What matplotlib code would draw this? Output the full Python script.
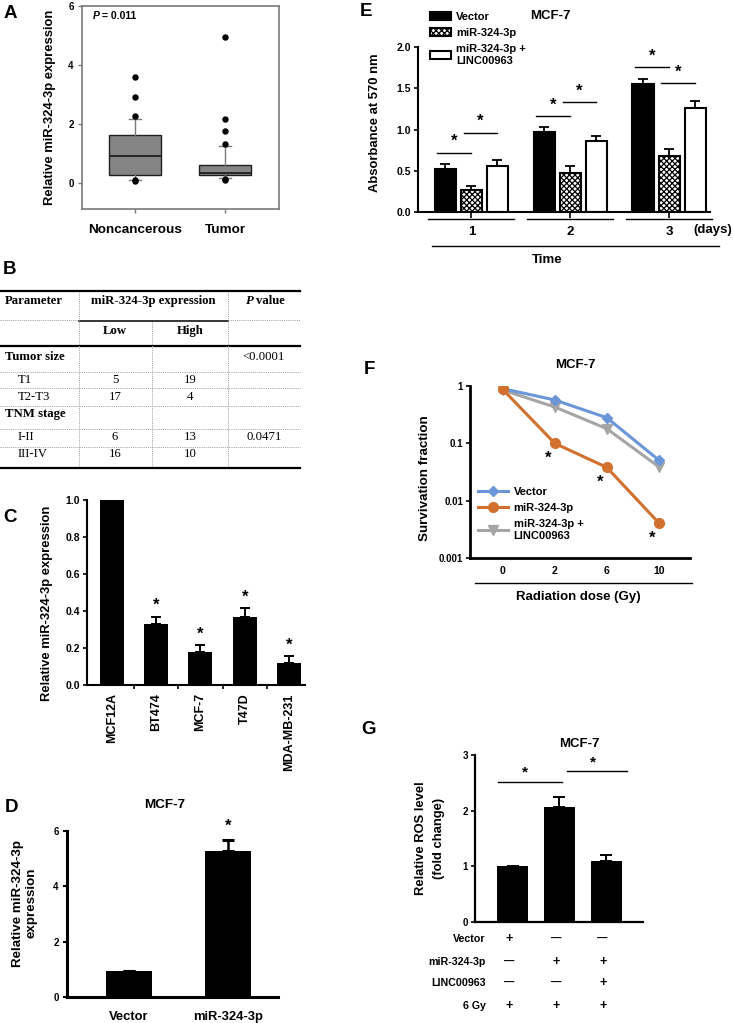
import matplotlib
matplotlib.use('Agg')
import matplotlib.pyplot as plt
import matplotlib.transforms as mtransforms
import numpy as np

plt.rcParams['font.family'] = ['Liberation Sans', 'DejaVu Sans']
plt.rcParams['font.weight'] = 'bold'
plt.rcParams['axes.labelweight'] = 'bold'
plt.rcParams['hatch.linewidth'] = 0.9

# ---------------- data ----------------
# A: box plot summary
a_groups = ['Noncancerous', 'Tumor']
a_q1 = [0.24, 0.24]
a_med = [0.90, 0.33]
a_q3 = [1.60, 0.61]
a_whislo = [0.10, 0.14]
a_whishi = [2.15, 1.24]
a_fliers = [[3.60, 2.90, 2.25, 0.06, 0.09], [4.95, 2.15, 1.75, 1.30, 0.10, 0.12]]
a_pvalue = '= 0.011'

# B: table
b_params = ['Tumor size', 'T1', 'T2-T3', 'TNM stage', 'I-II', 'III-IV']
b_is_header = [True, False, False, True, False, False]
b_low = ['', '5', '17', '', '6', '16']
b_high = ['', '19', '4', '', '13', '10']
b_p = ['<0.0001', '', '', '', '0.0471', '']

# C: cell lines
c_lines = ['MCF12A', 'BT474', 'MCF-7', 'T47D', 'MDA-MB-231']
c_vals = [1.0, 0.33, 0.18, 0.37, 0.12]
c_err = [0.0, 0.04, 0.035, 0.045, 0.035]
c_sig = [False, True, True, True, True]

# D
d_groups = ['Vector', 'miR-324-3p']
d_vals = [0.95, 5.26]
d_err = [0.0, 0.40]
d_sig = [False, True]

# E
e_days = ['1', '2', '3']
e_series = ['Vector', 'miR-324-3p', 'miR-324-3p +\nLINC00963']
e_vector = [0.515, 0.97, 1.55]
e_vector_err = [0.065, 0.06, 0.06]
e_mir = [0.26, 0.475, 0.68]
e_mir_err = [0.05, 0.08, 0.08]
e_linc = [0.55, 0.86, 1.265]
e_linc_err = [0.075, 0.065, 0.085]
e_sig = [(0, 0, 1, 0.72), (0, 1, 2, 0.96), (1, 0, 1, 1.165),
         (1, 1, 2, 1.33), (2, 0, 1, 1.757), (2, 1, 2, 1.56)]

# F
f_doses = ['0', '2', '6', '10']
f_vector = [0.90, 0.57, 0.28, 0.051]
f_mir = [0.87, 0.10, 0.038, 0.0041]
f_linc = [0.85, 0.43, 0.18, 0.039]
f_sig = [False, True, True, True]

# G
g_vals = [1.0, 2.06, 1.09]
g_err = [0.0, 0.18, 0.11]
g_rows = ['Vector', 'miR-324-3p', 'LINC00963', '6 Gy']
g_signs = [['+', '\u2014', '\u2014'], ['\u2014', '+', '+'],
           ['\u2014', '\u2014', '+'], ['+', '+', '+']]
g_sig = [(0, 1, 2.52), (1, 2, 2.71)]

# ---------------- layout helpers ----------------
W, H = 733, 1023
fig = plt.figure(figsize=(W / 100, H / 100), dpi=100)


def add_ax(l, t, r, b):
    return fig.add_axes([l / W, 1 - b / H, (r - l) / W, (b - t) / H])


def fx(x):
    return x / W


def fy(y):
    return 1 - y / H


def ftext(x, y, s, **kw):
    kw.setdefault('ha', 'center')
    kw.setdefault('va', 'center')
    return fig.text(fx(x), fy(y), s, **kw)


def place_ylabel(ax, x, y):
    ax.yaxis.set_label_coords(x, y)
    ax.yaxis.label.set_verticalalignment('center')


LETTER = 13.5

# ---------------- Panel A ----------------
axA = add_ax(82, 6, 279, 209)
stats = []
for i in range(len(a_groups)):
    stats.append(dict(label=a_groups[i], q1=a_q1[i], med=a_med[i], q3=a_q3[i],
                      whislo=a_whislo[i], whishi=a_whishi[i],
                      fliers=np.array(a_fliers[i])))
axA.bxp(stats, positions=[1, 2], widths=0.58, capwidths=0.14, patch_artist=True,
        boxprops=dict(facecolor='#858585', edgecolor='#202020', linewidth=1.0),
        medianprops=dict(color='#202020', linewidth=1.3),
        whiskerprops=dict(color='#7a7a7a', linewidth=1.0),
        capprops=dict(color='#7a7a7a', linewidth=1.0),
        flierprops=dict(marker='o', markerfacecolor='black', markeredgecolor='black',
                        markersize=3.6, linestyle='none'))
axA.set_xlim(0.41, 2.6)
axA.set_ylim(-0.9, 6)
axA.set_yticks([0, 2, 4, 6])
for s in axA.spines.values():
    s.set_color('#7a7a7a')
    s.set_linewidth(1.2)
axA.tick_params(axis='y', labelsize=7, length=3, color='#7a7a7a', width=1, pad=3)
axA.tick_params(axis='x', labelsize=9.7, length=3, color='#7a7a7a', width=1, pad=8)
axA.set_ylabel('Relative miR-324-3p expression', fontsize=9.4)
place_ylabel(axA, -0.162, 0.5)
ftext(93, 16, 'P', ha='left', fontsize=7.5, style='italic')
ftext(102, 16, a_pvalue, ha='left', fontsize=7.5)
ftext(10, 14, 'A', fontsize=LETTER)

# ---------------- Panel B (table) ----------------
ftext(10, 270, 'B', fontsize=LETTER)
axB = add_ax(0, 285, 300, 472)
axB.set_xlim(0, 300)
axB.set_ylim(472, 285)
axB.axis('off')
serif = ['Liberation Serif', 'DejaVu Serif']
TFS = 9.2
dot = dict(color='#9a9a9a', lw=0.7, ls=(0, (1, 1.2)), clip_on=False)
axB.plot([0, 300], [291, 291], color='black', lw=1.6, clip_on=False)
axB.plot([0, 79], [320, 320], **dot)
axB.plot([228, 300], [320, 320], **dot)
axB.plot([79, 228], [321, 321], color='black', lw=1.1, clip_on=False)
axB.plot([0, 300], [346.5, 346.5], color='black', lw=1.6, clip_on=False)
for yl in [371.7, 388, 406, 429, 446.7]:
    axB.plot([0, 300], [yl, yl], **dot)
axB.plot([0, 300], [468, 468], color='black', lw=1.6, clip_on=False)
axB.plot([79, 79], [292, 467], **dot)
axB.plot([152, 152], [322, 467], **dot)
axB.plot([228, 228], [292, 467], **dot)
axB.text(5, 301, 'Parameter', family=serif, fontsize=TFS, weight='bold', ha='left', va='center')
axB.text(153, 301, 'miR-324-3p expression', family=serif, fontsize=TFS, weight='bold', ha='center', va='center')
axB.text(246, 301, 'P', family=serif, fontsize=TFS, weight='bold', style='italic', ha='left', va='center')
axB.text(256, 301, 'value', family=serif, fontsize=TFS, weight='bold', ha='left', va='center')
axB.text(115, 331, 'Low', family=serif, fontsize=TFS, weight='bold', ha='center', va='center')
axB.text(190, 331, 'High', family=serif, fontsize=TFS, weight='bold', ha='center', va='center')
row_y = [357, 380, 397.5, 414, 436.5, 454]
for i, name in enumerate(b_params):
    yy = row_y[i]
    if b_is_header[i]:
        axB.text(5, yy, name, family=serif, fontsize=TFS, weight='bold', ha='left', va='center')
    else:
        axB.text(18, yy, name, family=serif, fontsize=TFS, weight='normal', ha='left', va='center')
    axB.text(115, yy, b_low[i], family=serif, fontsize=TFS, weight='normal', ha='center', va='center')
    axB.text(190, yy, b_high[i], family=serif, fontsize=TFS, weight='normal', ha='center', va='center')
    axB.text(264, yy, b_p[i], family=serif, fontsize=TFS, weight='normal', ha='center', va='center')

# ---------------- Panel C ----------------
ftext(10, 517, 'C', fontsize=LETTER)
axC = add_ax(87, 500, 305, 685)
xc = np.arange(len(c_lines))
axC.bar(xc, c_vals, width=0.54, color='black')
axC.errorbar(xc, c_vals, yerr=[np.zeros(len(c_err)), c_err], fmt='none', ecolor='black',
             elinewidth=1.4, capsize=3.5, capthick=1.4)
for i in range(len(c_lines)):
    if c_sig[i]:
        axC.annotate('*', (xc[i], c_vals[i] + c_err[i]), xytext=(0, 8), textcoords='offset points',
                     ha='center', va='center', fontsize=12)
axC.set_xlim(-0.56, 4.36)
axC.set_ylim(0, 1.0)
axC.set_yticks(np.arange(0, 1.01, 0.2))
axC.yaxis.set_major_formatter(matplotlib.ticker.FormatStrFormatter('%.1f'))
axC.set_xticks(xc)
axC.set_xticklabels(c_lines, rotation=90, fontsize=9)
axC.set_xticks(xc[:-1] + 0.5, minor=True)
axC.tick_params(axis='x', which='major', length=0, pad=6)
axC.tick_params(axis='x', which='minor', length=3, width=1.2)
axC.tick_params(axis='y', labelsize=7.5, length=3, width=1.2, pad=2)
for s in ['top', 'right']:
    axC.spines[s].set_visible(False)
for s in ['left', 'bottom']:
    axC.spines[s].set_linewidth(1.5)
axC.set_ylabel('Relative miR-324-3p expression', fontsize=9.4)
place_ylabel(axC, -0.185, 0.44)

# ---------------- Panel D ----------------
ftext(12, 808, 'D', fontsize=LETTER)
ftext(165, 805, 'MCF-7', fontsize=9.7)
axD = add_ax(67, 830.7, 278, 997.3)
xd = np.arange(len(d_groups))
axD.bar(xd, d_vals, width=0.47, color='black')
axD.errorbar(xd, d_vals, yerr=[np.zeros(len(d_err)), d_err], fmt='none', ecolor='black',
             elinewidth=1.8, capsize=4.5, capthick=2.2)
for i in range(len(d_groups)):
    if d_sig[i]:
        axD.annotate('*', (xd[i], d_vals[i] + d_err[i]), xytext=(0, 10), textcoords='offset points',
                     ha='center', va='center', fontsize=12, annotation_clip=False)
axD.set_xlim(-0.63, 1.51)
axD.set_ylim(0, 6)
axD.set_yticks([0, 2, 4, 6])
axD.set_xticks(xd)
axD.set_xticklabels(d_groups, fontsize=9.4)
axD.tick_params(axis='x', length=0, pad=10)
axD.tick_params(axis='y', labelsize=7, length=3, width=1.5, pad=3)
for s in ['top', 'right']:
    axD.spines[s].set_visible(False)
for s in ['left', 'bottom']:
    axD.spines[s].set_linewidth(2.2)
axD.set_ylabel('Relative miR-324-3p\nexpression', fontsize=9.6, linespacing=1.15)
place_ylabel(axD, -0.2, 0.566)

# ---------------- Panel E ----------------
ftext(366, 12, 'E', fontsize=LETTER)
ftext(550, 16, 'MCF-7', fontsize=9.5)
axE = add_ax(418, 47.3, 710, 211.7)
xe = np.arange(len(e_days))
off = 0.263
bw = 0.22
vals_list = [e_vector, e_mir, e_linc]
errs_list = [e_vector_err, e_mir_err, e_linc_err]
styles = [dict(facecolor='black', edgecolor='black'),
          dict(facecolor='white', edgecolor='black', hatch='xxxxxx'),
          dict(facecolor='white', edgecolor='black')]
handles = []
for k in range(3):
    bc = axE.bar(xe + (k - 1) * off, vals_list[k], bw, linewidth=1.5, label=e_series[k], **styles[k])
    handles.append(bc)
    axE.errorbar(xe + (k - 1) * off, vals_list[k], yerr=[np.zeros(3), errs_list[k]], fmt='none',
                 ecolor='black', elinewidth=1.3, capsize=3.5, capthick=1.3)
for g, a, b, hgt in e_sig:
    xa = g + (a - 1) * off - 0.08
    xb = g + (b - 1) * off
    axE.plot([xa, xb], [hgt, hgt], color='black', lw=1.0)
    axE.text((xa + xb) / 2, hgt + 0.135, '*', ha='center', va='center', fontsize=12)
axE.set_xlim(-0.54, 2.41)
axE.set_ylim(0, 2.0)
axE.set_yticks(np.arange(0, 2.01, 0.5))
axE.yaxis.set_major_formatter(matplotlib.ticker.FormatStrFormatter('%.1f'))
axE.set_xticks(xe)
axE.set_xticklabels(e_days, fontsize=9.5)
axE.tick_params(axis='x', length=4, width=1.2, pad=6)
axE.tick_params(axis='y', labelsize=7.5, length=3, width=1.2, pad=2)
for s in ['top', 'right']:
    axE.spines[s].set_visible(False)
for s in ['left', 'bottom']:
    axE.spines[s].set_linewidth(1.5)
axE.set_ylabel('Absorbance at 570 nm', fontsize=9.4)
place_ylabel(axE, -0.147, 0.543)
transE = mtransforms.blended_transform_factory(axE.transData, fig.transFigure)
for g in xe:
    axE.plot([g - 0.44, g + 0.43], [fy(218.5)] * 2, color='black', lw=1.0, transform=transE, clip_on=False)
axE.plot([-0.40, 2.50], [fy(246)] * 2, color='black', lw=1.0, transform=transE, clip_on=False)
ftext(713, 230, '(days)', fontsize=9.5)
ftext(547, 260, 'Time', fontsize=9.5)
axE.legend(handles=handles, labels=e_series, loc='upper left', bbox_to_anchor=(fx(430), fy(12)),
           bbox_transform=fig.transFigure, frameon=False, fontsize=8, handlelength=1.9,
           handleheight=0.75, handletextpad=0.45, labelspacing=0.55, borderpad=0, borderaxespad=0)

# ---------------- Panel F ----------------
ftext(369, 370, 'F', fontsize=LETTER)
ftext(575, 365, 'MCF-7', fontsize=9.5)
axF = add_ax(470, 386, 690, 558)
xf = np.arange(len(f_doses))
lv, = axF.plot(xf, f_vector, color='#6B96D9', marker='D', ms=5.5, lw=2.2, label='Vector', zorder=3)
lm, = axF.plot(xf, f_mir, color='#D2712E', marker='o', ms=7, lw=2.2, label='miR-324-3p', zorder=4)
lg, = axF.plot(xf, f_linc, color='#A5A5A5', marker='v', ms=7.5, lw=2.2,
               label='miR-324-3p +\nLINC00963', zorder=2)
for i in range(len(f_doses)):
    if f_sig[i]:
        axF.annotate('*', (xf[i], f_mir[i]), xytext=(-4.5, -11), textcoords='offset points',
                     ha='center', va='center', fontsize=12)
axF.set_yscale('log')
axF.set_ylim(0.001, 1)
axF.set_xlim(-0.63, 3.6)
axF.set_yticks([0.001, 0.01, 0.1, 1])
axF.set_yticklabels(['0.001', '0.01', '0.1', '1'])
axF.yaxis.set_minor_locator(matplotlib.ticker.NullLocator())
axF.set_xticks(xf)
axF.set_xticklabels(f_doses, fontsize=7.5)
axF.tick_params(axis='x', length=0, pad=6)
axF.tick_params(axis='y', labelsize=7, length=3, width=1.2, pad=2)
for s in ['top', 'right']:
    axF.spines[s].set_visible(False)
for s in ['left', 'bottom']:
    axF.spines[s].set_linewidth(2.0)
axF.set_ylabel('Survivation fraction', fontsize=9.6)
place_ylabel(axF, -0.2045, 0.465)
transF = mtransforms.blended_transform_factory(fig.transFigure, fig.transFigure)
axF.plot([fx(475), fx(692)], [fy(582.7)] * 2, color='black', lw=1.0, transform=transF, clip_on=False)
ftext(578, 597, 'Radiation dose (Gy)', fontsize=9.5)
axF.legend(handles=[lv, lm, lg], loc='upper left', bbox_to_anchor=(fx(478), fy(487)),
           bbox_transform=fig.transFigure, frameon=False, fontsize=8, handlelength=2.7,
           handletextpad=0.5, labelspacing=0.55, borderpad=0, borderaxespad=0)

# ---------------- Panel G ----------------
ftext(368, 730, 'G', fontsize=LETTER)
ftext(579, 744, 'MCF-7', fontsize=9.5)
axG = add_ax(475, 755, 643, 921.7)
xg = np.arange(len(g_vals))
axG.bar(xg, g_vals, width=0.67, color='black')
axG.errorbar(xg, g_vals, yerr=[np.zeros(len(g_err)), g_err], fmt='none', ecolor='black',
             elinewidth=1.4, capsize=4, capthick=1.4)
g_span = [(-0.32, 0.05), (0.16, 0.43)]
for (a, b, hgt), (da, db) in zip(g_sig, g_span):
    xa, xb = a + da, b + db
    axG.plot([xa, xb], [hgt, hgt], color='black', lw=1.0, clip_on=False)
    axG.text((xa + xb) / 2 - 0.09, hgt + 0.16, '*', ha='center', va='center', fontsize=11,
             clip_on=False)
axG.set_xlim(-0.8, 2.78)
axG.set_ylim(0, 3)
axG.set_yticks([0, 1, 2, 3])
axG.set_xticks([])
axG.tick_params(axis='y', labelsize=7, length=3, width=1.2, pad=2)
for s in ['top', 'right']:
    axG.spines[s].set_visible(False)
for s in ['left', 'bottom']:
    axG.spines[s].set_linewidth(1.6)
axG.set_ylabel('Relative ROS level\n(fold change)', fontsize=9.4, linespacing=1.6)
place_ylabel(axG, -0.268, 0.502)
transG = mtransforms.blended_transform_factory(axG.transData, fig.transFigure)
row_yg = [939, 961.7, 983, 1006]
for r, lab in enumerate(g_rows):
    ftext(486, row_yg[r], lab, ha='right', fontsize=7.7)
    for j in range(len(g_vals)):
        sgn = g_signs[r][j]
        axG.text(xg[j] - 0.08, fy(row_yg[r]), sgn, transform=transG, ha='center', va='center',
                 fontsize=9 if sgn == '+' else 7.5, clip_on=False)

fig.savefig('out.png', dpi=100)
